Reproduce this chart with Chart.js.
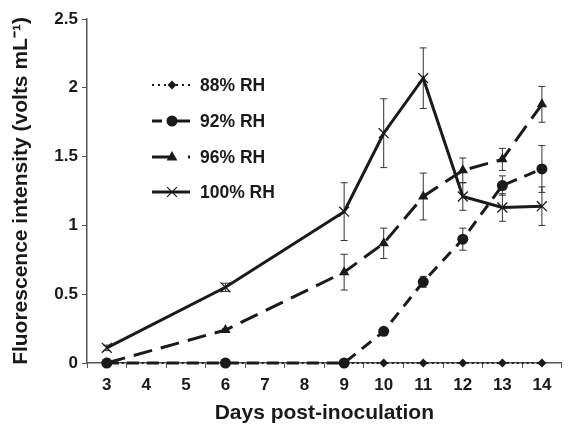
<!DOCTYPE html>
<html>
<head>
<meta charset="utf-8">
<script src="https://cdn.jsdelivr.net/npm/chart.js@4.4.1/dist/chart.umd.min.js"></script>
<style>
  html, body { margin: 0; padding: 0; background: #fff; }
  #wrap { width: 570px; height: 426px; }
</style>
</head>
<body>
<div id="wrap"><canvas id="myChart" width="570" height="426"></canvas></div>
<script>
// days post-inoculation (category axis, measured days only have values)
const days = ['3', '4', '5', '6', '7', '8', '9', '10', '11', '12', '13', '14'];

const rh88 = [0, null, null, 0, null, null, 0, 0, 0, 0, 0, 0];
const rh92 = [0, null, null, 0, null, null, 0, 0.23, 0.59, 0.90, 1.29, 1.41];
const rh96 = [0, null, null, 0.24, null, null, 0.66, 0.87, 1.21, 1.40, 1.48, 1.88];
const rh100 = [0.11, null, null, 0.55, null, null, 1.10, 1.67, 2.07, 1.21, 1.13, 1.14];

// error bar half widths
const err88 = [0, null, null, 0, null, null, 0, 0, 0, 0, 0, 0];
const err92 = [0, null, null, 0, null, null, 0, 0.01, 0.04, 0.08, 0.07, 0.17];
const err96 = [0, null, null, 0.01, null, null, 0.13, 0.11, 0.17, 0.09, 0.08, 0.13];
const err100 = [0.02, null, null, 0.03, null, null, 0.21, 0.25, 0.22, 0.10, 0.10, 0.14];

const yTicks = [0, 0.5, 1, 1.5, 2, 2.5];

const FONT = '"Liberation Sans", Arial, sans-serif';
const INK = '#1a1a1a';
const TEXT = '#1a1a1a';

const errorBars = {
  id: 'errorBars',
  beforeDatasetsDraw(chart) {
    const ctx = chart.ctx;
    const yScale = chart.scales.y;
    ctx.save();
    ctx.strokeStyle = '#333';
    ctx.lineWidth = 1;
    chart.data.datasets.forEach((ds, di) => {
      const meta = chart.getDatasetMeta(di);
      ds.data.forEach((v, i) => {
        const e = ds.err[i];
        if (v === null || !e) return;
        const x = meta.data[i].x;
        const yTop = yScale.getPixelForValue(v + e);
        const yBot = yScale.getPixelForValue(v - e);
        ctx.beginPath();
        ctx.moveTo(x, yTop);
        ctx.lineTo(x, yBot);
        ctx.moveTo(x - 3.5, yTop);
        ctx.lineTo(x + 3.5, yTop);
        ctx.moveTo(x - 3.5, yBot);
        ctx.lineTo(x + 3.5, yBot);
        ctx.stroke();
      });
    });
    ctx.restore();
  }
};

function drawMarker(ctx, style, r, x, y) {
  ctx.beginPath();
  if (style === 'circle') {
    ctx.arc(x, y, r, 0, Math.PI * 2);
    ctx.fill();
  } else if (style === 'rectRot') {
    ctx.moveTo(x, y - r); ctx.lineTo(x + r, y); ctx.lineTo(x, y + r); ctx.lineTo(x - r, y);
    ctx.closePath(); ctx.fill();
  } else if (style === 'triangle') {
    ctx.moveTo(x, y - r); ctx.lineTo(x + r * 0.9, y + r * 0.6); ctx.lineTo(x - r * 0.9, y + r * 0.6);
    ctx.closePath(); ctx.fill();
  } else if (style === 'crossRot') {
    const d = r * 0.7;
    ctx.lineWidth = 1.3;
    ctx.setLineDash([]);
    ctx.moveTo(x - d, y - d); ctx.lineTo(x + d, y + d);
    ctx.moveTo(x + d, y - d); ctx.lineTo(x - d, y + d);
    ctx.stroke();
  }
}

const innerLegend = {
  id: 'innerLegend',
  afterDraw(chart) {
    const ctx = chart.ctx;
    const rows = [85, 121, 157, 192];
    ctx.save();
    chart.data.datasets.forEach((ds, i) => {
      const y = rows[i];
      ctx.strokeStyle = INK;
      ctx.fillStyle = INK;
      ctx.lineWidth = ds.borderWidth;
      ctx.setLineDash(ds.legendDash);
      ctx.beginPath();
      ctx.moveTo(152, y);
      ctx.lineTo(190, y);
      ctx.stroke();
      ctx.setLineDash([]);
      drawMarker(ctx, ds.pointStyle, ds.pointRadius, 172, y);
      ctx.fillStyle = TEXT;
      ctx.font = 'bold 17.5px ' + FONT;
      ctx.textBaseline = 'middle';
      ctx.textAlign = 'left';
      ctx.fillText(ds.label, 200, y + 1);
    });
    ctx.restore();
  }
};

const ctx = document.getElementById('myChart').getContext('2d');

new Chart(ctx, {
  type: 'line',
  data: {
    labels: days,
    datasets: [
      {
        label: '88% RH', data: rh88, err: err88,
        borderColor: INK, backgroundColor: INK, borderWidth: 2,
        borderDash: [2, 3], legendDash: [2, 4],
        pointStyle: 'rectRot', pointRadius: 4.5, pointBorderWidth: 0
      },
      {
        label: '92% RH', data: rh92, err: err92,
        borderColor: INK, backgroundColor: INK, borderWidth: 3,
        borderDash: [12, 8], legendDash: [10, 14, 14],
        pointStyle: 'circle', pointRadius: 5.5, pointBorderWidth: 0
      },
      {
        label: '96% RH', data: rh96, err: err96,
        borderColor: INK, backgroundColor: INK, borderWidth: 3,
        borderDash: [19, 9], legendDash: [20, 16, 2, 10],
        pointStyle: 'triangle', pointRadius: 6, pointBorderWidth: 0
      },
      {
        label: '100% RH', data: rh100, err: err100,
        borderColor: INK, backgroundColor: INK, borderWidth: 3,
        borderDash: [], legendDash: [],
        pointStyle: 'crossRot', pointRadius: 7, pointBorderWidth: 1.3
      }
    ]
  },
  options: {
    responsive: false,
    animation: false,
    spanGaps: true,
    layout: { padding: { top: 19, right: 3, left: 0, bottom: 0 } },
    elements: { line: { tension: 0, borderCapStyle: 'butt' } },
    datasets: { line: { clip: false } },
    plugins: { legend: { display: false }, tooltip: { enabled: false } },
    scales: {
      x: {
        type: 'category',
        offset: true,
        afterFit: s => { s.height = 63; },
        grid: { offset: true, drawOnChartArea: false, tickLength: 5, color: '#555', lineWidth: 1 },
        border: { display: true, color: '#555', width: 1.5 },
        ticks: { color: TEXT, font: { family: FONT, size: 17, weight: 'bold' }, padding: 7, maxRotation: 0, autoSkip: false },
        title: {
          display: true, text: 'Days post-inoculation', color: TEXT,
          font: { family: FONT, size: 21, weight: 'bold' }, padding: { top: 0, bottom: 0 }
        }
      },
      y: {
        min: 0, max: 2.5,
        afterFit: s => { s.width = 87; },
        afterBuildTicks: s => { s.ticks = yTicks.map(v => ({ value: v })); },
        grid: { drawOnChartArea: false, tickLength: 5, color: '#555', lineWidth: 1 },
        border: { display: true, color: '#555', width: 1.5 },
        ticks: { color: TEXT, font: { family: FONT, size: 17, weight: 'bold' }, padding: 4, callback: v => String(v) },
        title: {
          display: true, text: 'Fluorescence intensity (volts mL\u207B\u00B9)', color: TEXT,
          font: { family: FONT, size: 21, weight: 'bold' }, padding: { top: 9, bottom: 0 }
        }
      }
    }
  },
  plugins: [errorBars, innerLegend]
});
</script>
</body>
</html>
